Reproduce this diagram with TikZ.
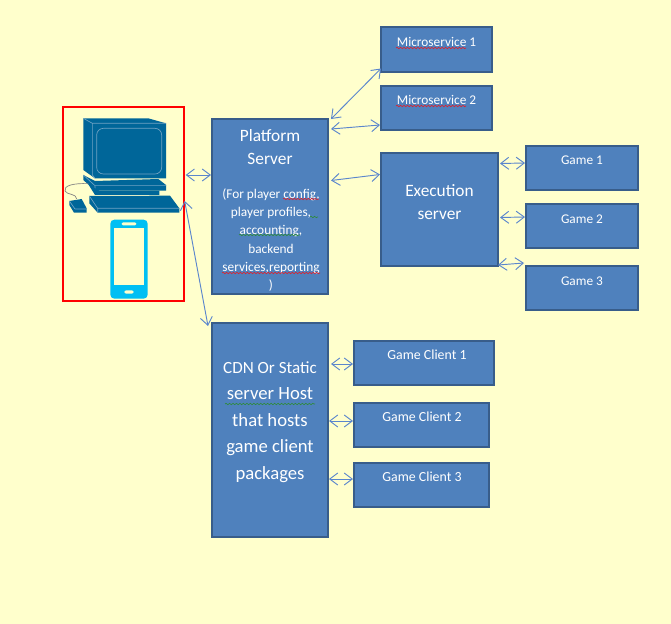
\documentclass[tikz,border=0pt]{standalone}
\usepackage{fontspec}
\setmainfont{Carlito}
\usetikzlibrary{arrows.meta,calc,decorations.pathmorphing}
\definecolor{paper}{HTML}{FFFFCC}
\definecolor{boxfill}{HTML}{4F81BD}
\definecolor{boxline}{HTML}{385D8A}
\definecolor{wire}{HTML}{5B86CC}
\definecolor{monitor}{HTML}{006699}
\definecolor{phone}{HTML}{00BFF3}
\definecolor{iconline}{HTML}{6FA3C4}
\definecolor{spellred}{HTML}{E0202A}
\definecolor{spellgreen}{HTML}{2E8B3A}
\tikzset{
  box/.style n args={2}{draw=boxline,fill=boxfill,line width=1.5pt,minimum width=.75pt*#1,minimum height=.75pt*#2,inner sep=0pt},
  bigtext/.style={text=white,font=\fontsize{13}{17.3}\selectfont,align=center,inner sep=0pt},
  smalltext/.style={text=white,font=\fontsize{10}{13.7}\selectfont,align=center,inner sep=0pt},
  link/.style={wire,line width=.7pt,{Straight Barb[length=6pt,width=9pt]}-{Straight Barb[length=6pt,width=9pt]}},
  spell/.style={#1,line width=.45pt,decorate,decoration={snake,amplitude=.55pt,segment length=2.6pt}},
  iconedge/.style={iconline,line width=.5pt}
}
\begin{document}
\begin{tikzpicture}[x=.75pt,y=-.75pt]
  \fill[paper] (0,0) rectangle (671,624);
  \useasboundingbox (0,0) rectangle (671,624);

  \node[draw=red,line width=1pt,minimum width=90.75pt,minimum height=145.5pt,inner sep=0pt] (device) at (123.5,204) {};
  \begin{scope}[shift={(50,95)},scale=1/3]
    \fill[monitor] (100,70) -- (295,70) -- (348,85) -- (348,250) -- (135,250) -- (100,225) -- cycle;
    \draw[iconedge] (100,70) -- (127,85) -- (348,85) (127,85) -- (127,240) -- (135,250);
    \draw[iconedge,rounded corners=5pt] (140,100) rectangle (335,237);
    \fill[monitor] (100,240) -- (135,258) -- (325,252) -- (348,270) -- (348,287) -- (135,287) -- (100,255) -- cycle;
    \draw[iconedge] (100,240) -- (135,272) -- (348,272) (135,272) -- (135,287);
    \fill[monitor] (115,268) -- (148,287) -- (328,287) -- (328,300) -- (135,300) -- cycle;
    \fill[monitor] (118,303) -- (360,302) -- (388,340) -- (388,353) -- (143,353) -- (118,325) -- cycle;
    \draw[iconedge] (118,303) -- (143,340) -- (388,340) (143,340) -- (143,353);
    \fill[monitor] (58,318) -- (95,312) -- (110,340) -- (110,353) -- (72,353) -- (58,330) -- cycle;
    \draw[iconedge] (58,318) -- (75,342) -- (110,342);
    \draw[gray,line width=.5pt] (115,266) .. controls (70,264) and (40,272) .. (45,288) .. controls (50,300) and (80,295) .. (80,312);
    \fill[phone,rounded corners=3pt] (181,374) rectangle (293,611);
    \fill[paper] (191,398) rectangle (283,570);
    \fill[paper,rounded corners=1pt] (215,382) rectangle (259,391);
    \fill[paper,rounded corners=1.5pt] (223,586) rectangle (251,596);
  \end{scope}

  \node[box={116}{175}] (platform) at (270,206.5) {};
  \node[box={116}{214}] (cdn) at (270,430) {};
  \node[box={111}{45}] (micro1) at (436.5,50) {};
  \node[box={111}{44}] (micro2) at (436.5,108) {};
  \node[box={117}{113}] (exec) at (439.5,209.5) {};
  \node[box={112}{44}] (game1) at (582,168) {};
  \node[box={112}{44}] (game2) at (582,226) {};
  \node[box={112}{44}] (game3) at (582,288) {};
  \node[box={140}{44}] (client1) at (424,363) {};
  \node[box={135}{44}] (client2) at (421.5,425) {};
  \node[box={135}{44}] (client3) at (421.5,485) {};

  \node[bigtext] (platformtext) at (270,147) {Platform\\Server};
  \node[smalltext] (platformnote) at (271,240) {(For player config,\\player profiles,\\accounting,\\backend\\services,reporting\\)};
  \node[bigtext,font=\fontsize{14}{19.8}\selectfont] (cdntext) at (270,422) {{\fontsize{12.8}{19.8}\selectfont CDN Or Static}\\server\ Host\\that hosts\\game client\\packages};
  \node[bigtext] (exectext) at (439.5,202) {Execution\\server};
  \node[smalltext] (micro1text) at (436.5,42) {Microservice 1};
  \node[smalltext] (micro2text) at (436.5,100) {Microservice 2};
  \node[smalltext] (game1text) at (582,160.5) {Game 1};
  \node[smalltext] (game2text) at (582,219.5) {Game 2};
  \node[smalltext] (game3text) at (582,281.5) {Game 3};
  \node[smalltext,font=\fontsize{10.4}{13.7}\selectfont] (client1text) at (427,355) {Game Client 1};
  \node[smalltext,font=\fontsize{10.4}{13.7}\selectfont] (client2text) at (422,417) {Game Client 2};
  \node[smalltext,font=\fontsize{10.4}{13.7}\selectfont] (client3text) at (422,477) {Game Client 3};

  \draw[spell=spellred] (396,48) -- (466,48);
  \draw[spell=spellred] (396,106) -- (466,106);
  \draw[spell=spellred] (283,199) -- (319,199);
  \draw[spell=spellgreen] (310,217) -- (318,217);
  \draw[spell=spellgreen] (239,235) -- (300,235);
  \draw[spell=spellred] (222,273) -- (320,273);
  \draw[spell=spellgreen] (225,404) -- (315,404);

  \draw[link] ($(device.east)+(1,-29)$) -- ($(platform.west)+(0,-31.5)$);
  \draw[link] ($(device.east)+(0,-3)$) -- ($(cdn.north west)+(-3,4)$);
  \draw[link] ($(platform.north east)+(2,1)$) -- ($(micro1.south west)+(1,-5)$);
  \draw[link] ($(platform.north east)+(2,11)$) -- ($(micro2.west)+(0,17)$);
  \draw[link] ($(platform.east)+(2,-26)$) -- ($(exec.west)+(0,-35)$);
  \draw[link] ($(exec.east)+(1,-46)$) -- ($(game1.west)+(0,-5)$);
  \draw[link] ($(exec.east)+(1,8)$) -- ($(game2.west)+(0,-9)$);
  \draw[link] ($(exec.south east)+(-1,-2)$) -- ($(game3.north west)+(-1,-2)$);
  \draw[link] ($(cdn.east)+(2,-66)$) -- ($(client1.west)+(0,1)$);
  \draw[link] ($(cdn.east)+(0,-9)$) -- ($(client2.west)+(0,-4)$);
  \draw[link] ($(cdn.east)+(0,49)$) -- ($(client3.west)+(0,-6)$);
\end{tikzpicture}
\end{document}
